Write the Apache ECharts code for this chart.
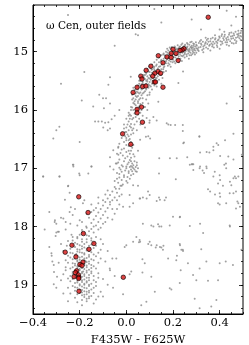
<!DOCTYPE html>
<html><head><meta charset="utf-8">
<script src="https://cdn.jsdelivr.net/npm/echarts@6/dist/echarts.min.js"></script>
<style>html,body{margin:0;padding:0;background:#fff}#c{width:249px;height:345px}</style>
</head><body><div id="c"></div>
<script>
const xLabel = 'F435W - F625W';
const yLabel = 'F435W';
const title = 'ω Cen, outer fields';
const xTicks = [-0.4, -0.2, 0.0, 0.2, 0.4];
const yTicks = [15, 16, 17, 18, 19];

const rgbUpper = [
[0.30,14.88],[0.31,14.93],[0.32,14.86],[0.33,14.91],[0.34,14.84],[0.35,14.95],[0.36,14.82],[0.37,14.88],[0.38,14.79],[0.39,14.85],[0.40,14.76],[0.41,14.83],[0.42,14.74],[0.43,14.80],[0.44,14.71],[0.45,14.78],[0.46,14.69],[0.47,14.76],[0.48,14.72],[0.49,14.68],
[0.305,14.95],[0.315,14.82],[0.325,14.97],[0.335,14.89],[0.345,14.80],[0.355,14.90],[0.365,14.86],[0.375,14.93],[0.385,14.83],[0.395,14.79],[0.405,14.88],[0.415,14.77],[0.425,14.84],[0.435,14.75],[0.445,14.82],[0.455,14.73],[0.465,14.80],[0.475,14.70],[0.485,14.77],[0.495,14.74],
[0.31,14.99],[0.33,15.01],[0.35,14.78],[0.37,14.76],[0.39,14.92],[0.41,14.70],[0.43,14.88],[0.45,14.67],[0.47,14.85],[0.49,14.80],[0.36,14.98],[0.40,14.95],[0.44,14.90],[0.48,14.64],[0.42,14.66],[0.38,14.72],[0.34,14.76],[0.46,14.86],[0.32,14.80],[0.30,15.02],
[0.20,14.98],[0.21,14.93],[0.22,15.00],[0.23,14.91],[0.24,15.02],[0.25,14.90],[0.26,14.96],[0.27,14.88],[0.28,14.94],[0.29,14.87],[0.205,15.05],[0.215,14.96],[0.225,15.08],[0.235,14.95],[0.245,15.06],[0.255,14.99],[0.265,15.03],[0.275,14.92],[0.285,15.00],[0.295,14.91],
[0.21,15.10],[0.23,15.04],[0.25,15.10],[0.27,15.00],[0.29,14.97],[0.22,14.89],[0.24,14.86],[0.26,14.85],[0.28,14.83],[0.30,14.94],[0.212,15.01],[0.228,14.97],[0.242,14.93],[0.258,15.05],[0.272,14.97],[0.288,14.90],[0.232,15.12],[0.248,14.98],[0.262,14.91],[0.278,15.06],
[0.218,15.14],[0.238,15.16],[0.268,15.12],[0.252,14.88],[0.282,14.97],[0.296,14.98]
];
const rgbUpper2 = [
[0.152,15.22],[0.158,15.05],[0.163,15.25],[0.171,15.16],[0.176,15.02],[0.183,15.15],[0.186,14.93],[0.194,15.12],[0.197,14.99],[0.203,15.09],[0.207,14.91],[0.214,15.06],[0.219,14.95],[0.224,15.12],[0.227,14.92],[0.233,15.00],[0.236,14.88],[0.241,15.08],[0.246,14.91],[0.251,15.02],
[0.254,14.93],[0.259,15.08],[0.263,14.87],[0.266,14.99],[0.271,15.06],[0.274,14.84],[0.279,14.93],[0.283,15.04],[0.287,14.86],[0.291,14.95],[0.294,15.05],[0.298,14.84],[0.302,14.90],[0.307,14.97],[0.311,14.85],[0.318,14.92],[0.322,14.88],[0.328,14.83],[0.331,14.95],[0.338,14.86],
[0.342,14.93],[0.347,14.87],[0.352,14.83],[0.358,14.88],[0.362,14.78],[0.368,14.91],[0.372,14.83],[0.378,14.86],[0.382,14.77],[0.388,14.89],[0.392,14.81],[0.398,14.74],[0.403,14.82],[0.408,14.73],[0.412,14.86],[0.418,14.80],[0.422,14.71],[0.428,14.77],[0.432,14.84],[0.438,14.79],
[0.442,14.68],[0.448,14.74],[0.452,14.85],[0.458,14.77],[0.462,14.72],[0.468,14.66],[0.472,14.82],[0.478,14.75],[0.482,14.69],[0.488,14.73],[0.492,14.64],[0.497,14.80],[0.21,14.98],[0.22,15.05],[0.23,14.96],[0.24,14.99],[0.25,15.04],[0.26,14.93],[0.27,14.95],[0.28,14.90],
[0.29,15.02],[0.215,15.03],[0.225,14.94],[0.235,15.07],[0.245,15.00],[0.255,14.95],[0.265,14.97],[0.275,15.02],[0.285,14.93],[0.17,15.20],[0.18,15.10],[0.19,15.17],[0.20,15.02],[0.165,15.06],[0.185,15.22],[0.205,15.17],[0.225,15.18],[0.195,14.92],[0.175,14.95]
];
const rgbMiddle = [
[0.10,15.35],[0.11,15.30],[0.12,15.26],[0.13,15.22],[0.14,15.18],[0.15,15.14],[0.16,15.12],[0.17,15.08],[0.18,15.06],[0.19,15.03],
[0.105,15.42],[0.115,15.38],[0.125,15.33],[0.135,15.29],[0.145,15.25],[0.155,15.20],[0.165,15.17],[0.175,15.13],[0.185,15.11],[0.195,15.08],
[0.10,15.25],[0.11,15.22],[0.12,15.18],[0.13,15.14],[0.14,15.10],[0.15,15.06],[0.16,15.03],[0.17,15.00],[0.18,14.98],[0.19,14.95],
[0.12,15.40],[0.14,15.34],[0.16,15.27],[0.18,15.20],[0.20,15.14],[0.13,15.45],[0.15,15.40],[0.17,15.33],[0.19,15.26],[0.21,15.20],
[0.108,15.31],[0.128,15.24],[0.148,15.16],[0.168,15.10],[0.188,15.04],[0.138,15.38],[0.158,15.30],[0.178,15.24],[0.198,15.18],[0.118,15.28]
];
const rgbLower = [
[0.03,15.80],[0.04,15.72],[0.05,15.65],[0.06,15.58],[0.07,15.52],[0.08,15.47],[0.09,15.42],[0.10,15.40],[0.035,15.66],[0.045,15.60],[0.055,15.55],[0.065,15.48],[0.075,15.44],[0.085,15.38],[0.095,15.34],
[0.04,15.82],[0.05,15.76],[0.06,15.70],[0.07,15.63],[0.08,15.57],[0.09,15.51],[0.10,15.46],[0.11,15.44],[0.12,15.36],[0.025,15.74],[0.045,15.69],[0.065,15.56],[0.085,15.50],[0.105,15.48],[0.115,15.50],
[0.05,15.85],[0.07,15.72],[0.09,15.60],[0.11,15.55],[0.13,15.52],[0.06,15.80],[0.08,15.68],[0.10,15.58],[0.03,15.62],[0.055,15.50],[0.075,15.40],[0.095,15.56],[0.125,15.45],[0.14,15.48],[0.15,15.55],
[0.00,16.30],[0.01,16.20],[0.02,16.10],[0.03,16.00],[0.04,15.92],[0.05,15.88],[0.005,16.42],[0.015,16.28],[0.025,16.16],[0.035,16.06],[0.045,15.98],[0.055,15.94],[0.01,16.35],[0.02,16.24],[0.03,16.14],[0.04,16.04],[0.05,16.00],[0.06,15.90],[0.07,15.88],[0.08,15.95],
[-0.005,16.38],[0.015,16.08],[0.025,15.96],[0.035,15.90],[0.06,16.05],[0.07,16.10],[0.09,16.00],[0.10,16.18],[0.0,16.48],[0.01,16.45],[0.03,16.32],[0.045,16.20],[0.06,16.25],[-0.01,16.25],[0.02,15.95],[0.08,16.30]
];
const rgbLower2 = [
[0.09,15.30],[0.095,15.45],[0.10,15.52],[0.105,15.28],[0.11,15.36],[0.115,15.45],[0.12,15.31],[0.125,15.50],[0.13,15.35],[0.135,15.42],[0.14,15.26],[0.145,15.40],[0.15,15.30],[0.155,15.45],[0.16,15.35],[0.08,15.40],[0.085,15.55],[0.09,15.48],[0.075,15.60],[0.07,15.55],
[0.065,15.65],[0.06,15.62],[0.055,15.72],[0.05,15.70],[0.045,15.78],[0.04,15.76],[0.035,15.85],[0.03,15.88],[0.025,15.82],[0.02,16.00],[0.015,16.15],[0.01,16.10],[0.005,16.25],[0.0,16.38],[-0.005,16.45],[0.055,15.82],[0.065,15.75],[0.075,15.70],[0.085,15.65],[0.095,15.62],
[0.105,15.60],[0.11,15.65],[0.12,15.58],[0.13,15.60],[0.07,15.80],[0.06,15.95],[0.05,16.08],[0.04,16.12],[0.035,16.25],[0.025,16.35],[0.02,16.42],[0.015,16.50],[0.045,16.35],[0.055,16.15],[0.065,16.00],[0.075,15.95],[0.085,15.82],[0.09,15.75],[0.10,15.70],[0.02,16.30],
[0.03,16.40],[0.01,16.05],[0.0,16.15],[-0.01,16.32],[-0.015,16.42],[0.04,15.65],[0.05,15.58],[0.06,15.50],[0.07,15.45],[0.08,15.35],[0.03,15.72]
];
const subgiant = [
[-0.01,16.55],[0.0,16.6],[0.01,16.62],[-0.02,16.68],[0.0,16.72],[0.02,16.70],[-0.015,16.78],[0.005,16.80],[0.02,16.82],[-0.03,16.85],[-0.01,16.88],[0.01,16.90],[0.025,16.92],[-0.02,16.95],[0.0,16.97],[0.015,16.98],[0.03,17.00],[-0.025,17.02],[-0.005,17.04],[0.01,17.05],
[0.02,16.88],[0.03,16.95],[-0.03,17.10],[-0.01,17.12],[0.005,17.15],[-0.04,17.18],[-0.02,17.20],[0.0,17.22],[-0.035,17.25],[-0.015,17.28],[0.02,17.02],[0.015,16.75],[-0.035,16.65],[0.035,16.80],[0.04,17.05],[0.01,16.52],[0.03,16.60],[-0.045,16.92],[0.045,16.90],[0.05,16.70],
[-0.05,17.32],[-0.03,17.35],[-0.06,17.40],[-0.04,17.42],[-0.07,17.46],[-0.05,17.50],[-0.08,17.52],[-0.06,17.55],[-0.09,17.58],[-0.07,17.62],[-0.10,17.64],[-0.08,17.68],[-0.11,17.70],[-0.09,17.74],[-0.12,17.76],[-0.10,17.80],[-0.13,17.82],[-0.11,17.86],[-0.14,17.88],[-0.12,17.92],
[-0.15,17.94],[-0.13,17.98],[-0.04,17.55],[-0.03,17.62],[-0.02,17.45],[-0.06,17.70],[-0.08,17.85],[-0.10,17.95],[-0.16,17.85],[-0.14,17.72],[-0.12,17.60],[-0.09,17.45],[-0.02,17.30],[-0.05,17.78]
];
const subgiant2 = [
[-0.02,16.48],[0.0,16.52],[0.02,16.55],[-0.03,16.58],[0.025,16.65],[-0.01,16.66],[0.01,16.70],[-0.025,16.74],[0.03,16.76],[-0.005,16.83],[0.015,16.86],[-0.035,16.90],[0.035,16.88],[0.005,16.93],[-0.015,16.97],[0.02,16.96],[0.04,16.98],[-0.03,16.99],[0.0,17.00],[0.025,17.05],
[-0.02,17.06],[0.01,17.08],[-0.04,17.08],[0.03,17.10],[-0.01,17.15],[0.015,17.18],[-0.03,17.16],[-0.05,17.22],[0.005,17.25],[-0.025,17.30],[-0.045,17.35],[0.02,16.60],[-0.04,16.75],[0.045,16.95],[0.05,17.00],[0.025,16.98],[0.035,17.02],[0.045,17.06],[0.02,17.12],[-0.055,17.02],
[-0.18,17.55],[-0.15,17.62],[-0.12,17.50],[-0.08,17.38],[-0.1,17.55],[-0.13,17.68],[-0.17,17.78],[-0.19,17.92],[-0.07,17.58],[-0.03,17.48],[-0.04,17.70],[-0.06,17.88],[-0.09,17.92],[-0.11,18.02],[-0.14,18.0],[-0.21,17.98],[-0.26,17.92],[-0.23,17.80]
];
const mainSeq = [
[-0.17,18.02],[-0.15,18.04],[-0.19,18.06],[-0.16,18.08],[-0.14,18.10],[-0.18,18.12],[-0.20,18.14],[-0.16,18.16],[-0.13,18.18],[-0.21,18.20],[-0.17,18.22],[-0.15,18.24],[-0.19,18.26],[-0.22,18.28],[-0.14,18.28],[-0.18,18.30],[-0.12,18.05],[-0.23,18.18],[-0.11,18.22],[-0.25,18.25],
[-0.20,18.32],[-0.16,18.33],[-0.22,18.35],[-0.18,18.36],[-0.14,18.37],[-0.24,18.38],[-0.20,18.40],[-0.17,18.41],[-0.21,18.43],[-0.15,18.44],[-0.19,18.45],[-0.23,18.46],[-0.18,18.48],[-0.16,18.49],[-0.21,18.50],[-0.13,18.51],[-0.19,18.52],[-0.24,18.53],[-0.17,18.54],[-0.22,18.55],
[-0.15,18.56],[-0.20,18.57],[-0.18,18.58],[-0.26,18.58],[-0.12,18.45],[-0.11,18.55],[-0.27,18.42],[-0.19,18.38],[-0.215,18.47],[-0.175,18.59],
[-0.21,18.60],[-0.17,18.61],[-0.19,18.62],[-0.23,18.63],[-0.16,18.64],[-0.20,18.65],[-0.18,18.66],[-0.22,18.67],[-0.14,18.68],[-0.19,18.69],[-0.17,18.70],[-0.21,18.71],[-0.24,18.72],[-0.18,18.73],[-0.16,18.74],[-0.20,18.75],[-0.22,18.76],[-0.15,18.77],[-0.19,18.78],[-0.17,18.79],
[-0.21,18.80],[-0.23,18.81],[-0.18,18.82],[-0.16,18.83],[-0.20,18.84],[-0.14,18.85],[-0.19,18.86],[-0.22,18.87],[-0.17,18.88],[-0.25,18.89],[-0.13,18.72],[-0.12,18.80],[-0.26,18.70],[-0.27,18.82],[-0.205,18.68],[-0.185,18.77],
[-0.20,18.90],[-0.18,18.91],[-0.16,18.92],[-0.21,18.93],[-0.19,18.95],[-0.17,18.96],[-0.22,18.97],[-0.15,18.98],[-0.20,18.99],[-0.18,19.00],[-0.16,19.02],[-0.19,19.03],[-0.21,19.05],[-0.17,19.06],[-0.15,19.08],[-0.19,19.09],[-0.18,19.11],[-0.16,19.13],[-0.20,19.14],[-0.17,19.16],
[-0.19,19.18],[-0.15,19.19],[-0.18,19.21],[-0.17,19.24],[-0.23,19.02],[-0.14,19.05],[-0.13,18.95],[-0.24,18.94],[-0.22,19.10],[-0.16,19.20],
[-0.30,18.10],[-0.28,18.30],[-0.32,18.50],[-0.29,18.62],[-0.31,18.78],[-0.28,18.92],[-0.30,19.05],[-0.27,19.15],[-0.33,18.35],[-0.26,18.05],[-0.10,18.30],[-0.08,18.42],[-0.09,18.60],[-0.07,18.75],[-0.10,18.90],[-0.08,19.00],[-0.11,19.12],[-0.06,18.55],[-0.05,18.85],[-0.12,19.20],
[-0.25,19.28],[-0.21,19.30],[-0.14,19.32],[-0.19,19.35],[-0.24,17.95],[-0.28,17.85],[-0.33,17.75],[-0.22,17.70],[-0.30,17.95],[-0.35,18.05]
];
const mainSeq2 = [
[-0.19,18.10],[-0.17,18.15],[-0.21,18.18],[-0.15,18.20],[-0.19,18.22],[-0.23,18.24],[-0.17,18.27],[-0.21,18.30],[-0.15,18.31],[-0.19,18.34],[-0.23,18.32],[-0.17,18.38],[-0.21,18.39],[-0.16,18.42],[-0.2,18.44],[-0.24,18.45],[-0.18,18.46],[-0.22,18.49],[-0.14,18.48],[-0.2,18.53],
[-0.16,18.52],[-0.23,18.56],[-0.18,18.55],[-0.21,18.58],[-0.14,18.58],[-0.25,18.62],[-0.2,18.62],[-0.16,18.60],[-0.22,18.64],[-0.18,18.64],[-0.15,18.66],[-0.21,18.68],[-0.17,18.67],[-0.19,18.71],[-0.23,18.70],[-0.15,18.71],[-0.2,18.73],[-0.17,18.76],[-0.21,18.77],[-0.23,18.78],
[-0.19,18.80],[-0.15,18.80],[-0.22,18.83],[-0.18,18.85],[-0.2,18.88],[-0.16,18.88],[-0.23,18.90],[-0.19,18.92],[-0.17,18.94],[-0.21,18.96],[-0.18,18.98],[-0.2,19.01],[-0.16,19.00],[-0.22,19.04],[-0.18,19.05],[-0.2,19.08],[-0.16,19.10],[-0.19,19.13],[-0.17,19.12],[-0.21,19.16],
[-0.18,19.17],[-0.16,19.23],[-0.19,19.26],[-0.17,19.28],[-0.14,19.14],[-0.13,19.02],[-0.25,18.50],[-0.26,18.75],[-0.24,18.85],[-0.12,18.62],[-0.11,18.40],[-0.13,18.33],[-0.255,18.33],[-0.235,18.14],[-0.14,18.92],[-0.12,18.88],[-0.25,19.05],[-0.24,19.15],[-0.13,19.25],[-0.22,19.22]
];
const fieldStars = [
[0.12,14.27],[0.04,14.70],[0.05,14.72],[-0.25,14.37],[0.15,14.5],[0.28,14.45],[0.32,14.62],[0.45,14.55],[0.47,14.40],[0.43,14.30],[0.40,14.62],[-0.05,14.90],[-0.18,15.35],[-0.28,15.55],[-0.10,15.8],[-0.30,16.35],[-0.20,16.55],[-0.05,16.1],[-0.12,16.2],[-0.08,16.35],
[-0.313,16.49],[-0.287,16.29],[-0.227,16.94],[-0.202,17.09],[-0.287,17.14],[-0.356,17.14],[-0.163,17.09],[-0.249,17.30],[-0.263,17.54],[-0.238,17.67],[-0.306,17.89],[-0.27,17.86],
[-0.07,15.44],[0.019,15.43],[-0.077,15.57],[-0.116,15.74],[-0.087,15.80],[-0.07,15.89],[-0.142,15.94],[-0.191,15.84],[-0.096,15.97],[-0.03,16.0],[-0.134,16.2],[-0.105,16.2],[-0.091,16.22],[-0.077,16.21],[-0.063,16.16],[-0.099,16.30],[-0.07,16.32],[-0.056,16.69],[-0.034,16.63],[-0.07,16.81],[-0.034,16.77],[-0.041,16.92],[-0.07,16.97],[-0.227,16.97],[-0.149,16.97],
[0.099,15.74],[0.094,15.89],[0.137,15.86],[0.116,16.12],[0.087,16.14],[0.099,16.22],[0.13,16.18],[0.173,16.23],[0.18,16.25],[0.19,16.26],[0.209,16.26],[0.242,16.26],[0.242,16.36],[0.223,15.54],[0.243,15.34],[0.43,15.89],[0.487,15.77],[0.313,16.45],[0.423,16.52],[0.387,16.57],[0.459,16.41],
[0.094,16.45],[0.084,16.46],[0.102,16.49],[0.059,16.51],[0.247,16.56],[0.141,16.83],[0.187,16.83],[0.216,16.83],[0.261,16.81],[0.316,16.73],[0.344,16.72],[0.373,16.69],[0.402,16.79],[0.437,16.80],[0.459,16.85],[0.495,16.77],[0.287,16.93],[0.316,16.97],[0.344,17.0],[0.427,16.92],
[0.313,16.46],[0.244,16.57],[0.373,16.63],[0.394,16.60],[0.356,16.73],[0.28,16.93],[0.287,17.03],[0.327,17.04],[0.333,17.08],[0.373,17.14],[0.402,17.2],[0.444,17.23],[0.459,17.17],[0.48,17.14],[0.359,17.40],[0.402,17.49],[0.459,17.43],[0.476,17.57],[0.487,17.66],[0.38,17.45],[0.40,17.62],
[0.23,17.83],[0.444,18.0],[0.316,17.95],[0.13,17.56],[0.144,17.54],[0.059,17.52],[0.087,17.52],[0.17,17.5],[0.116,18.0],[0.141,18.0],[0.2,17.83],
[0.272,16.94],[0.283,16.93],[0.314,17.0],[0.343,16.97],[0.379,17.06],[0.40,17.12],[0.42,16.94],[0.428,17.0],[0.465,17.14],[0.47,17.17],[0.393,17.26],[0.414,17.3],[0.45,17.29],[0.443,17.43],[0.47,17.40],[0.40,17.43],[0.393,17.60],[0.428,17.60],[0.47,17.69],[0.48,17.6],[0.35,17.36],
[0.14,17.09],[0.212,17.19],[0.229,17.84],[0.272,17.99],[0.14,17.5],[0.164,17.55],[0.093,17.4],[0.1,17.46],[0.071,17.5],[0.057,17.52],[0.029,17.29],[0.05,17.3],[0.014,17.46],[-0.014,17.66],[0.014,17.66],[0.029,17.60],[0.071,17.95],[0.107,17.98],[0.136,17.96],[0.15,18.0],[0.186,17.98],[0.329,18.11],[0.443,17.98],[0.043,18.18],
[-0.357,17.14],[-0.286,17.14],[-0.229,16.94],[-0.2,17.12],[-0.15,16.97],[-0.25,17.31],[-0.243,17.42],[-0.243,17.75],[-0.307,17.92],[-0.293,18.09],[-0.289,18.09],[-0.303,18.16],[-0.186,17.60],[-0.2,17.89],[-0.172,18.0],[-0.15,17.75],
[0.029,18.26],[0.057,18.23],[0.054,18.27],[-0.007,18.35],[0.1,18.26],[0.107,18.32],[0.126,18.36],[0.15,18.36],[0.157,18.4],[0.229,18.3],[0.236,18.4],[0.243,18.42],[0.321,18.39],[0.493,18.4],[0.40,18.63],[0.426,18.6],[0.457,18.66],[0.343,18.6],[0.264,18.63],[0.314,18.72],[0.233,18.75],
[0.179,18.55],[0.214,18.58],[0.217,18.5],[0.069,18.56],[0.079,18.63],[-0.043,18.55],[-0.071,18.72],[0.021,18.77],[0.014,18.82],[0.069,18.79],[0.107,18.86],[0.286,18.83],[0.3,18.92],[0.35,18.93],[0.393,18.92],[0.186,19.06],[0.193,19.08],[0.122,19.12],[-0.014,19.16],[-0.057,19.05],[-0.1,19.2],
[0.064,19.35],[0.086,19.29],[0.293,19.24],[0.386,19.26],[0.314,19.4],[0.364,19.37],[0.229,18.97],[-0.311,18.99],[-0.317,18.6],[-0.311,18.66],[-0.297,18.86],[-0.321,18.46],
[0.059,18.26],[0.094,18.3],[0.0,18.32],[0.13,18.32],[0.144,18.35],[0.159,18.33],[0.23,18.32],[0.242,18.4]
];
const redStars = [
[0.351,14.41],[0.247,14.95],[0.239,14.97],[0.230,14.98],[0.200,14.96],[0.192,15.03],[0.213,15.03],[0.174,15.09],[0.192,15.10],[0.137,15.07],
[0.222,15.15],[0.157,15.19],[0.105,15.25],[0.085,15.32],[0.136,15.34],[0.122,15.37],[0.147,15.37],[0.113,15.42],[0.062,15.42],[0.067,15.47],
[0.120,15.52],[0.125,15.52],[0.157,15.61],[0.070,15.60],[0.084,15.59],[0.046,15.61],[0.029,15.70],[0.065,15.95],[0.046,15.99],[0.046,16.05],
[0.069,16.21],[-0.016,16.41],[0.019,16.59],[-0.204,17.49],[-0.164,17.76],[-0.184,18.12],[-0.139,18.29],[-0.233,18.32],[-0.160,18.39],[-0.262,18.44],
[-0.216,18.52],[-0.186,18.61],[-0.199,18.65],[-0.190,18.67],[-0.213,18.76],[-0.218,18.79],[-0.205,18.83],[-0.224,18.86],[-0.204,18.87],[-0.204,18.89],
[-0.013,18.87],[-0.203,19.11]
];

const grayStars = [].concat(rgbUpper, rgbUpper2, rgbMiddle, rgbLower, rgbLower2, subgiant, subgiant2, mainSeq, mainSeq2, fieldStars);
const FONT = 'DejaVu Serif';
const fmtX = v => (v < 0 ? '\u2212' : '') + Math.abs(v).toFixed(1);
const isTick = (arr, v) => arr.some(t => Math.abs(t - v) < 1e-6);

function xAxisDef(pos, major, idx) {
  return {
    type: 'value', position: pos, min: -0.4, max: 0.5, interval: major ? 0.2 : 0.05,
    axisLine: { show: idx === 0, onZero: false, lineStyle: { color: '#000', width: 1 } },
    axisTick: { show: true, inside: true, length: major ? 4 : 2, lineStyle: { color: '#000', width: 0.8 } },
    splitLine: { show: false },
    axisLabel: { show: major && pos === 'bottom', showMinLabel: true, showMaxLabel: false, margin: 3,
      fontFamily: FONT, fontSize: 11.5, color: '#000',
      formatter: v => isTick(xTicks, v) ? fmtX(v) : '' },
    name: (major && pos === 'bottom') ? xLabel : '', nameLocation: 'middle', nameGap: 16,
    nameTextStyle: { fontFamily: FONT, fontSize: 11.5, color: '#000' }
  };
}
function yAxisDef(pos, major, idx) {
  const ax = {
    type: 'value', position: pos, inverse: true, min: 14.2, max: 19.5,
    axisLine: { show: idx === 0, onZero: false, lineStyle: { color: '#000', width: 1 } },
    axisTick: { show: true, inside: true, length: major ? 4 : 2, lineStyle: { color: '#000', width: 0.8 } },
    splitLine: { show: false },
    axisLabel: { show: major && pos === 'left', showMinLabel: false, showMaxLabel: false, margin: 5,
      fontFamily: FONT, fontSize: 11.5, color: '#000',
      formatter: v => isTick(yTicks, v) ? String(Math.round(v)) : '' },
    name: (major && pos === 'left') ? yLabel : '', nameLocation: 'middle', nameGap: 19,
    nameTextStyle: { fontFamily: FONT, fontSize: 11.5, color: '#000' }
  };
  if (major) { ax.splitNumber = 5; } else { ax.interval = 0.2; }
  return ax;
}

const chart = echarts.init(document.getElementById('c'), null, { renderer: 'canvas' });
chart.setOption({
  animation: false,
  backgroundColor: '#fff',
  grid: { left: 33, right: 6, top: 5, bottom: 31, containLabel: false, outerBoundsMode: 'none',
          show: true, borderColor: '#000', borderWidth: 1 },
  xAxis: [xAxisDef('bottom', true, 0), xAxisDef('bottom', false, 1), xAxisDef('top', true, 2), xAxisDef('top', false, 3)],
  yAxis: [yAxisDef('left', true, 0), yAxisDef('left', false, 1), yAxisDef('right', true, 2), yAxisDef('right', false, 3)],
  graphic: [{ type: 'text', left: 46, top: 21,
    style: { text: title, font: '10.5px "DejaVu Serif"', fill: '#000' } }],
  series: [
    { type: 'scatter', xAxisIndex: 0, yAxisIndex: 0, data: grayStars, symbol: 'circle', symbolSize: 2,
      itemStyle: { color: '#8a8a8a' }, silent: true },
    { type: 'scatter', xAxisIndex: 0, yAxisIndex: 0, data: redStars, symbol: 'circle', symbolSize: 4.5,
      itemStyle: { color: '#d41414', borderColor: '#000', borderWidth: 0.8 }, silent: true }
  ]
});
</script></body></html>
